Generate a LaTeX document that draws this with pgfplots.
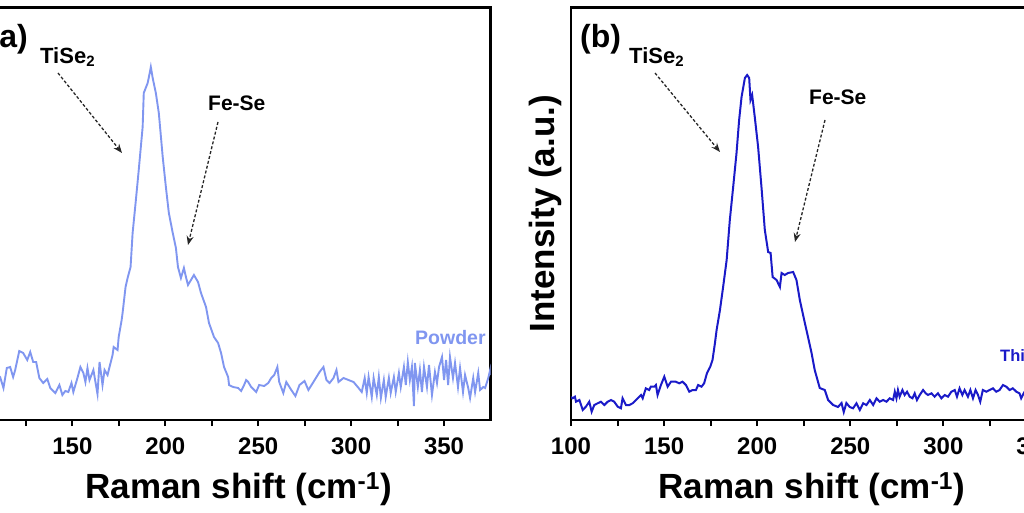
\documentclass[border=0pt]{standalone}
\usepackage{fontspec}
\setmainfont{Liberation Sans}
\usepackage{pgfplots}
\pgfplotsset{compat=1.18}
\usetikzlibrary{arrows.meta}
\definecolor{powder}{RGB}{128,150,240}
\definecolor{thin}{RGB}{26,26,200}
\newcommand{\tickfont}{\fontsize{24}{24}\selectfont\bfseries}
\newcommand{\labfont}{\fontsize{35}{40}\selectfont\bfseries}
\pgfplotsset{ramanaxis/.style={
  anchor=south west, scale only axis, height=412.5pt,
  xmin=100, xmax=375, ymin=0, ymax=412.5,
  axis line style={line width=2.5pt, black},
  xtick={100,150,...,350}, minor x tick num=1, ytick=\empty,
  xtick pos=bottom, tick align=outside,
  major tick length=6pt, minor tick length=6pt,
  tick style={line width=2pt, black},
  ticklabel style={font=\tickfont},
  xticklabel style={yshift=-8pt},
  /pgf/number format/assume math mode=true,
  xlabel={Raman shift (cm\textsuperscript{-1})},
  ylabel={Intensity (a.u.)},
  label style={font=\labfont},
  ylabel style={anchor=center},
  xlabel style={anchor=center},
}}
\begin{document}
\begin{tikzpicture}
% ---------- (a) Powder ----------
\begin{axis}[ramanaxis, at={(-20.5pt,92pt)}, width=511pt,
  xlabel style={at={(axis description cs:0.507,-0.167)}},
  ylabel style={at={(axis description cs:-0.049,0.5)}}]
\addplot[color=powder, line width=1.9pt] coordinates {
(100,45)(103,38)(106,33)(108.5,47)
(111.1,43)(112.9,32)(114.7,52)(116.5,53)(118.1,43)(119.2,50)(121.4,69)(123.5,67)(125.7,60)(127.3,68)
(128.9,58)(130.5,58)(132.2,42)(134.3,37)(136.5,41)(138.1,32)(140.8,27)(143.0,35)(144.6,25)(146.2,29)
(147.8,28)(149.5,37)(150.5,28)(152.7,42)(154.3,53)(155.9,47)(157.0,38)(158.1,52)(159.2,40)(161.3,50)
(163.5,26)(164.6,58)(166.2,35)(167.3,50)(168.9,45)(171.6,65)(172.2,73)(174.3,70)(174.9,83)(176.5,100)
(177.0,107)(178.6,133)(179.7,142)(181.3,153)(182.4,187)(184.0,217)(185.7,250)(187.8,293)(188.4,327)
(190.5,337)(191.6,347)(192.2,353)(193.2,342)(194.9,327)(196.5,307)(198.6,263)(200.3,233)(201.9,207)
(204.0,187)(205.7,172)(206.8,153)(208.4,142)(210.0,152)(211.1,143)(212.2,135)(213.8,140)(215.4,145)
(217.6,138)(219.2,127)(221.9,113)(223.5,97)(226.2,83)(228.4,77)(230.0,67)(231.6,53)(233.8,43)(234.3,35)
(236.5,33)(239.2,32)(240.8,29)(242.4,35)(243.5,40)(244.6,38)(246.2,33)(248.9,28)(250.5,35)(253.2,34)
(255.4,37)(257.0,42)(258.6,45)(260.3,53)(261.3,38)(263.5,27)(265.1,38)(267.8,30)(270.0,24)(272.2,35)
(274.9,39)(277.0,30)(279.7,38)(283.0,48)(285.1,53)(286.7,40)(288.4,37)(290.5,42)(292.1,50)(293.2,38)
(295.9,42)(298.6,40)(301.3,38)(304.0,32)(305.7,28)(307.3,42)(308.4,27)(309.4,43)(311.1,23)(312.1,42)
(313.8,25)(314.9,43)(316.0,22)(317.6,40)(318.6,23)(320.3,42)(321.3,27)(323.0,43)(324.0,28)(325.7,47)
(326.7,33)(328.4,53)(329.4,35)(330.5,58)(331.6,40)(332.7,53)(333.8,14)(334.3,57)(335.9,33)(337.0,50)
(338.1,28)(339.2,53)(340.8,33)(341.9,55)(343.5,25)(345.1,48)(346.2,37)(347.3,53)(348.9,63)(350.0,40)
(351.1,60)(352.2,35)(353.2,63)(354.8,42)(355.9,57)(357.5,33)(358.6,52)(360.2,28)(361.3,45)(363.0,32)
(364.0,22)(365.7,42)(366.7,28)(368.4,47)(369.4,30)(371.1,33)(372.1,32)(373.8,42)(374.8,50)(375.0,45)
};
\end{axis}
% ---------- (b) Thin film ----------
\begin{axis}[ramanaxis, at={(571pt,92pt)}, width=512pt,
  xlabel style={at={(axis description cs:0.470,-0.167)}},
  ylabel style={at={(axis description cs:-0.049,0.5)}}]
\addplot[color=thin, line width=2pt] coordinates {
(100.0,23)(100.9,21.7)(102.1,23.3)(102.7,18.3)(104.5,20)(106.3,10)(108.0,13.3)(109.8,18.3)(111.1,8.3)
(112.5,15)(114.3,16.7)(116.1,18.3)(117.9,15)(119.7,18.3)(121.5,20)(123.2,18.3)(125.1,13.3)(126.8,11.7)
(127.7,21.7)(129.5,15)(131.3,15)(133.1,16.7)(135.8,21.7)(137.6,25)(138.5,21.7)(140.2,31.7)(142.0,30)
(142.9,33.3)(144.7,33.3)(145.6,35)(146.5,25)(148.3,35)(150.1,43.3)(151.9,33.3)(153.7,38.3)(156.3,38.3)
(158.1,36.7)(159.9,38.3)(161.7,35)(163.5,28.3)(165.3,30)(167.1,30)(168.3,35)(170.1,33.3)(171.5,36.7)
(173.0,46.7)(174.8,53.3)(176.0,60)(177.3,76.7)(178.2,90)(180.0,110)(181.7,133)(183.6,160)(185.3,200)
(187.1,233)(188.9,267)(190.3,300)(191.6,323)(193.4,342)(194.6,345)(195.7,342)(196.4,320)(197.3,325)
(198.7,303)(200.5,273)(202.3,233)(204.1,190)(205.9,168)(207.2,167)(208.3,143)(210.4,140)(212.2,133)
(213.1,147)(214.8,145)(216.6,147)(219.3,148)(221.1,140)(222.9,120)(225.6,97)(227.3,83)(229.2,67)
(230.9,50)(233.6,32)(236.3,30)(238.1,20)(240.8,15)(243.4,13)(245.3,17)(246.5,8)(247.9,17)(249.7,13)
(251.5,11.7)(253.3,16.7)(255.1,10)(256.9,16.7)(258.7,15)(260.5,20)(262.3,15)(264.1,21.7)(265.8,18.3)
(267.6,20)(269.4,18.3)(271.2,21.7)(273.0,20)(273.9,28.3)(274.8,21.7)(275.6,30)(276.5,23.3)(278.0,30)
(279.2,25)(280.5,28.3)(281.9,23.3)(283.4,21.7)(284.6,26.7)(285.8,20)(287.3,25)(289.1,30)(290.5,26.7)
(291.7,25)(293.6,26.7)(295.3,23.3)(297.1,26.7)(298.9,21.7)(300.7,25)(302.5,23.3)(304.3,28.3)(306.1,30)
(307.3,23.3)(308.7,31.7)(310.2,25)(311.4,30)(313.2,23.3)(314.5,30)(315.9,21.7)(317.3,30)(318.6,25)
(319.8,18.3)(321.2,30)(323.1,28.3)(324.8,30)(326.6,31.7)(328.4,28.3)(330.2,30)(332.0,35)(333.8,33.3)
(335.6,30)(337.3,31.7)(339.2,28.3)(340.9,26.7)(341.8,21.7)(343.5,28)(345.5,31)(347.5,26)(350.0,30)
(353,27)(356,32)(359,28)(362,31)(365,26)(368,30)(371,28)(375,30)
};
\end{axis}
% ---------- annotations ----------
\node[anchor=west, inner sep=0pt, font=\fontsize{32}{32}\selectfont\bfseries] at (-11.5pt,473pt) {(a)};
\node[anchor=west, inner sep=0pt, font=\fontsize{32}{32}\selectfont\bfseries] at (580pt,473pt) {(b)};
\node[anchor=west, inner sep=0pt, font=\fontsize{22}{22}\selectfont\bfseries] at (40pt,455pt) {TiSe\raisebox{-0.3ex}{\fontsize{15}{15}\selectfont 2}};
\node[anchor=west, inner sep=0pt, font=\fontsize{22}{22}\selectfont\bfseries] at (629pt,455pt) {TiSe\raisebox{-0.3ex}{\fontsize{15}{15}\selectfont 2}};
\node[anchor=west, inner sep=0pt, font=\fontsize{21}{21}\selectfont\bfseries] at (208pt,409pt) {Fe-Se};
\node[anchor=west, inner sep=0pt, font=\fontsize{21}{21}\selectfont\bfseries] at (809pt,415pt) {Fe-Se};
\node[anchor=west, inner sep=0pt, text=powder, font=\fontsize{19.5}{19.5}\selectfont\bfseries] at (415pt,174pt) {Powder};
\node[anchor=west, inner sep=0pt, text=thin, font=\fontsize{16.5}{16.5}\selectfont\bfseries] at (1000pt,156pt) {Thin film};
\begin{scope}[black!85, line width=1.3pt, densely dashed, -{Stealth[length=9pt,width=7pt]}]
\draw (58pt,439pt) -- (122pt,359pt);
\draw (655pt,439pt) -- (720pt,360pt);
\draw (218pt,390pt) -- (188pt,267pt);
\draw (825pt,392pt) -- (795pt,270pt);
\end{scope}
\pgfresetboundingbox
\useasboundingbox (0pt,0pt) rectangle (1024pt,512pt);
\end{tikzpicture}
\end{document}
